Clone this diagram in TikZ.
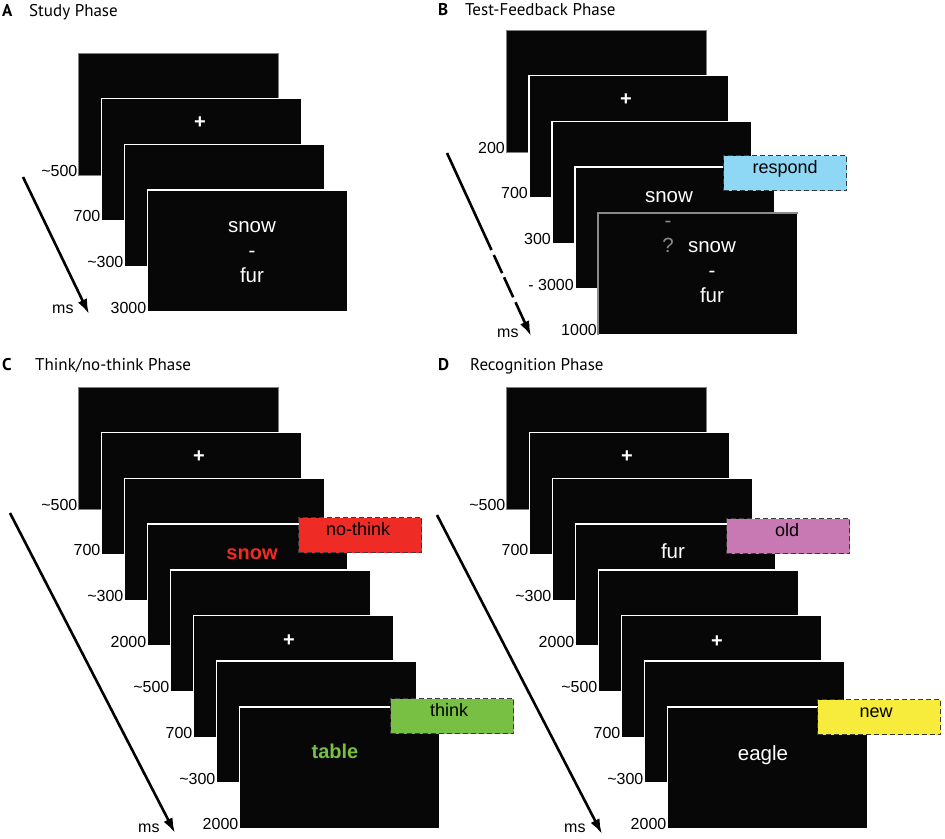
\documentclass[tikz,border=0pt]{standalone}
\usepackage{fontspec}
\setmainfont{Liberation Sans}
\newfontfamily\ttlfont{PT Sans}
\usetikzlibrary{arrows.meta}
\definecolor{scrblack}{HTML}{070707}
\definecolor{dashgray}{HTML}{3A3A3A}
\definecolor{fbgray}{HTML}{8A8A8A}
\definecolor{respblue}{HTML}{8FD8F5}
\definecolor{nored}{HTML}{EE2B25}
\definecolor{thgreen}{HTML}{77C043}
\definecolor{oldpink}{HTML}{C878B2}
\definecolor{newyellow}{HTML}{F7EB3C}
\begin{document}
\begin{tikzpicture}[x=1pt,y=-1pt,
  scr/.style={fill=scrblack, draw=white, line width=1.5pt, minimum width=200pt,
    minimum height=122pt, inner sep=0pt, outer sep=0pt, anchor=north west},
  scrfirst/.style={scr, draw=gray, line width=0.8pt},
  tl/.style={font=\fontsize{16}{18}\selectfont, inner sep=0pt, anchor=base east},
  ct/.style={font=\fontsize{20.5}{25}\selectfont, text=white, inner sep=0pt, anchor=base},
  ctb/.style={font=\fontsize{20}{25}\selectfont\bfseries, inner sep=0pt, anchor=base},
  plus/.style={font=\fontsize{20}{24}\selectfont\bfseries, text=white, inner sep=0pt},
  cbox/.style={draw=dashgray, dash pattern=on 5pt off 3pt, line width=1.3pt,
    minimum width=123pt, minimum height=35pt, inner sep=0pt, anchor=north west},
  btxt/.style={font=\fontsize{18}{20}\selectfont, text=black, inner sep=0pt, anchor=base},
  ttl/.style={font=\ttlfont\fontsize{17}{20}\selectfont, inner sep=0pt, anchor=base west},
  ttlb/.style={font=\ttlfont\bfseries\fontsize{17}{20}\selectfont, inner sep=0pt, anchor=base west},
  msl/.style={font=\fontsize{16}{18}\selectfont, inner sep=0pt, anchor=base west},
  tarrow/.style={line width=2.6pt, -{Latex[length=15pt,width=10pt]}}
]
\useasboundingbox[fill=white] (0,0) rectangle (945,838);

% ---------------- Titles ----------------
\node[ttlb] (lA) at (2,16) {A};
\node[ttl] (tA) at (29,16) {Study Phase};
\node[ttlb] (lB) at (438,15) {B};
\node[ttl] (tB) at (465,15) {Test-Feedback Phase};
\node[ttlb] (lC) at (2,370) {C};
\node[ttl] (tC) at (35,370) {Think/no-think Phase};
\node[ttlb] (lD) at (438,370) {D};
\node[ttl] (tD) at (470,370) {Recognition Phase};

% ---------------- Panel A ----------------
\node[scrfirst] (A0) at (78.5,53) {};
\foreach \k in {1,2,3}{
  \node[scr] (A\k) at ({78.5+23*\k},{53+45.7*\k}) {};
}
\foreach \k/\t in {0/\textasciitilde500, 1/700, 2/\textasciitilde300, 3/3000}{
  \node[tl] (At\k) at ([xshift=-1pt,yshift=-1pt]A\k.south west) {\t};
}
\node[plus] (Ap) at (200,123) {+};
\node[ct] (As1) at (252,232) {snow};
\node[ct] (As2) at (252,257) {-};
\node[ct] (As3) at (252,282) {fur};
\coordinate (aAs) at (23,177);
\coordinate (aAe) at (89,314);
\draw[tarrow] (aAs) -- (aAe);
\node[msl] (Ams) at (52,313) {ms};

% ---------------- Panel B ----------------
\node[scrfirst] (B0) at (506,30) {};
\foreach \k in {1,2,3,4}{
  \node[scr] (B\k) at ({506+23*\k},{30+45.7*\k}) {};
}
\draw[fbgray, line width=1.5pt] (B4.south west) -- (B4.north west) -- (B4.north east);
\foreach \k/\t in {0/200, 1/700, 2/300, 3/- 3000, 4/1000}{
  \node[tl] (Bt\k) at ([xshift=-1pt,yshift=-1pt]B\k.south west) {\t};
}
\node[plus] (Bp) at (626,100) {+};
\node[ct] (Bs1) at (669,202) {snow};
\node[ct, text=fbgray] (Bs2) at (668,227) {-};
\node[ct, text=fbgray] (Bq) at (668,252) {?};
\node[ct] (Bs3) at (712,252) {snow};
\node[ct] (Bs4) at (712,277) {-};
\node[ct] (Bs5) at (712,302) {fur};
\node[cbox, fill=respblue] (Br) at (723,155) {};
\node[btxt] (Brt) at ([yshift=-18pt]Br.north) {respond};
\coordinate (aBs) at (447,153);
\coordinate (aBm) at (491.5,250);
\coordinate (aBe) at (531,336);
\draw[line width=2.6pt] (aBs) -- (aBm);
\draw[tarrow, dash pattern=on 0pt off 5.5pt on 20pt off 4.5pt on 22pt off 5.5pt on 200pt] (aBm) -- (aBe);
\node[msl] (Bms) at (497,337) {ms};

% ---------------- Panel C ----------------
\node[scrfirst] (C0) at (78.5,387) {};
\foreach \k in {1,...,7}{
  \node[scr] (C\k) at ({78.5+23*\k},{387+45.7*\k}) {};
}
\foreach \k/\t in {0/\textasciitilde500, 1/700, 2/\textasciitilde300, 3/2000,
                   4/\textasciitilde500, 5/700, 6/\textasciitilde300, 7/2000}{
  \node[tl] (Ct\k) at ([xshift=-1pt,yshift=-1pt]C\k.south west) {\t};
}
\node[plus] (Cp1) at (199,457) {+};
\node[plus] (Cp2) at (289,641) {+};
\node[ctb, text=nored] (Csn) at (252,559) {snow};
\node[ctb, text=thgreen] (Ctb) at (335,758) {table};
\node[cbox, fill=nored] (Cnt) at (298,517) {};
\node[btxt] (Cntt) at ([xshift=-2pt,yshift=-18pt]Cnt.north) {no-think};
\node[cbox, fill=thgreen] (Cth) at (390,698) {};
\node[btxt] (Ctht) at ([xshift=-3pt,yshift=-18pt]Cth.north) {think};
\coordinate (aCs) at (10,513);
\coordinate (aCe) at (175,833);
\draw[tarrow] (aCs) -- (aCe);
\node[msl] (Cms) at (138,832) {ms};

% ---------------- Panel D ----------------
\node[scrfirst] (D0) at (506.5,387) {};
\foreach \k in {1,...,7}{
  \node[scr] (D\k) at ({506.5+23*\k},{387+45.7*\k}) {};
}
\foreach \k/\t in {0/\textasciitilde500, 1/700, 2/\textasciitilde300, 3/2000,
                   4/\textasciitilde500, 5/700, 6/\textasciitilde300, 7/2000}{
  \node[tl] (Dt\k) at ([xshift=-1pt,yshift=-1pt]D\k.south west) {\t};
}
\node[plus] (Dp1) at (627,457) {+};
\node[plus] (Dp2) at (717,642) {+};
\node[ct] (Dfur) at (673,558) {fur};
\node[ct] (Deag) at (763,760) {eagle};
\node[cbox, fill=oldpink] (Dold) at (726,518) {};
\node[btxt] (Doldt) at ([xshift=-1pt,yshift=-18pt]Dold.north) {old};
\node[cbox, fill=newyellow] (Dnew) at (817,699) {};
\node[btxt] (Dnewt) at ([xshift=-3pt,yshift=-18pt]Dnew.north) {new};
\coordinate (aDs) at (437,515);
\coordinate (aDe) at (602,834);
\draw[tarrow] (aDs) -- (aDe);
\node[msl] (Dms) at (564,832) {ms};
\end{tikzpicture}
\end{document}
